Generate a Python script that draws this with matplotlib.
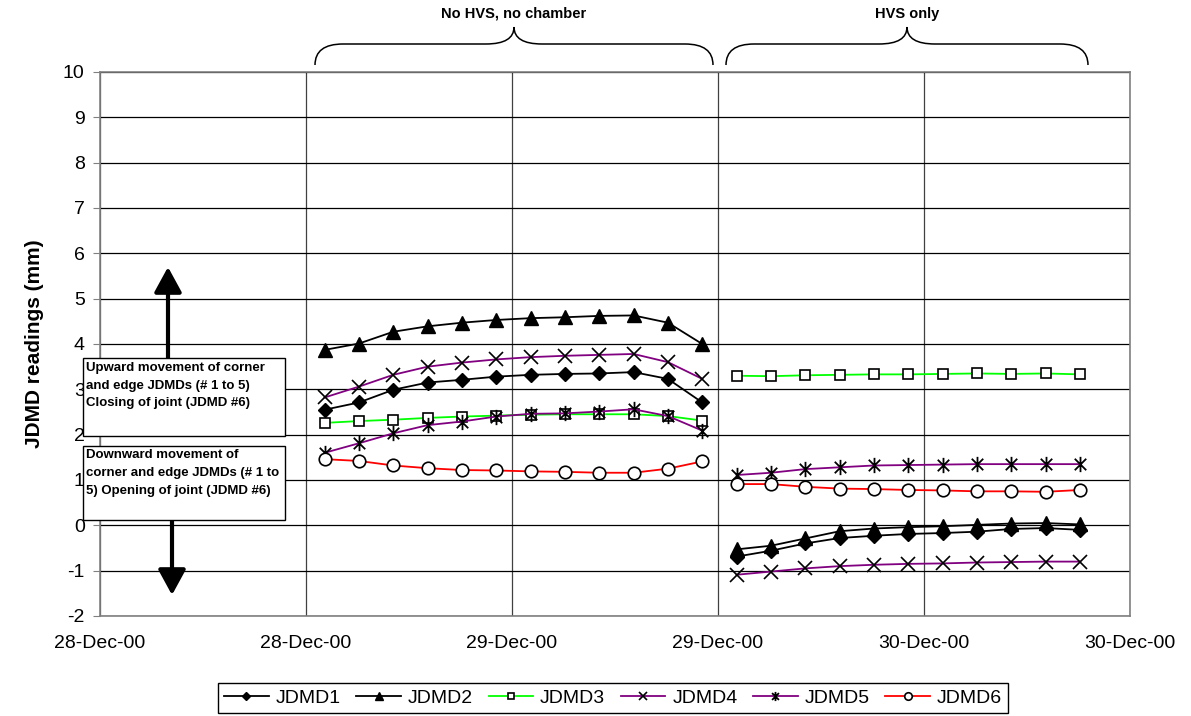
import matplotlib
matplotlib.use("Agg")
import matplotlib.pyplot as plt
import matplotlib.dates as mdates
from matplotlib.path import Path
from matplotlib.patches import PathPatch, Rectangle
import pandas as pd

plt.rcParams['font.family'] = ['Liberation Sans', 'DejaVu Sans']
plt.rcParams['axes.unicode_minus'] = False

# ---------------- data ----------------
times_g1 = ['2000-12-28 13:05', '2000-12-28 15:05', '2000-12-28 17:05', '2000-12-28 19:05',
            '2000-12-28 21:05', '2000-12-28 23:05', '2000-12-29 01:05', '2000-12-29 03:05',
            '2000-12-29 05:05', '2000-12-29 07:05', '2000-12-29 09:05', '2000-12-29 11:05']
times_g2 = ['2000-12-29 13:05', '2000-12-29 15:05', '2000-12-29 17:05', '2000-12-29 19:05',
            '2000-12-29 21:05', '2000-12-29 23:05', '2000-12-30 01:05', '2000-12-30 03:05',
            '2000-12-30 05:05', '2000-12-30 07:05', '2000-12-30 09:05']

series_names = ['JDMD1', 'JDMD2', 'JDMD3', 'JDMD4', 'JDMD5', 'JDMD6']

jdmd1_g1 = [2.55, 2.71, 2.99, 3.15, 3.21, 3.28, 3.32, 3.34, 3.35, 3.38, 3.23, 2.71]
jdmd1_g2 = [-0.69, -0.56, -0.40, -0.28, -0.23, -0.19, -0.17, -0.14, -0.08, -0.06, -0.10]
jdmd2_g1 = [3.87, 4.01, 4.27, 4.39, 4.47, 4.53, 4.57, 4.59, 4.62, 4.63, 4.47, 4.00]
jdmd2_g2 = [-0.53, -0.45, -0.29, -0.13, -0.07, -0.04, -0.02, 0.01, 0.04, 0.05, 0.02]
jdmd3_g1 = [2.26, 2.30, 2.33, 2.37, 2.40, 2.42, 2.44, 2.45, 2.45, 2.45, 2.41, 2.31]
jdmd3_g2 = [3.30, 3.29, 3.31, 3.32, 3.33, 3.33, 3.34, 3.35, 3.34, 3.35, 3.33]
jdmd4_g1 = [2.82, 3.06, 3.32, 3.50, 3.59, 3.66, 3.71, 3.74, 3.76, 3.78, 3.60, 3.23]
jdmd4_g2 = [-1.09, -1.02, -0.95, -0.90, -0.87, -0.85, -0.84, -0.82, -0.81, -0.80, -0.80]
jdmd5_g1 = [1.60, 1.81, 2.03, 2.21, 2.29, 2.40, 2.46, 2.47, 2.51, 2.56, 2.41, 2.09]
jdmd5_g2 = [1.11, 1.16, 1.24, 1.28, 1.32, 1.33, 1.34, 1.35, 1.35, 1.35, 1.35]
jdmd6_g1 = [1.46, 1.42, 1.32, 1.26, 1.22, 1.21, 1.19, 1.18, 1.16, 1.16, 1.25, 1.41]
jdmd6_g2 = [0.91, 0.91, 0.85, 0.81, 0.80, 0.78, 0.77, 0.75, 0.75, 0.74, 0.78]

y_ticks = [-2, -1, 0, 1, 2, 3, 4, 5, 6, 7, 8, 9, 10]
x_start = '2000-12-28 00:00'
x_end = '2000-12-30 12:00'

period_labels = ['No HVS, no chamber', 'HVS only']
box_up_lines = ['Upward movement of corner', 'and edge JDMDs (# 1 to 5)', 'Closing of joint (JDMD #6)']
box_down_lines = ['Downward movement of', 'corner and edge JDMDs (# 1 to', '5) Opening of joint (JDMD #6)']

# ---------------- styles ----------------
asterisk = Path([(0, -1), (0, 1), (-0.75, -0.75), (0.75, 0.75), (-0.75, 0.75), (0.75, -0.75)],
                [Path.MOVETO, Path.LINETO, Path.MOVETO, Path.LINETO, Path.MOVETO, Path.LINETO])

styles = [
    dict(color='black', marker='D', ms=7, mfc='black', mec='black'),
    dict(color='black', marker='^', ms=10, mfc='black', mec='black'),
    dict(color='#00FF00', marker='s', ms=6.5, mfc='white', mec='black', mew=1.2),
    dict(color='#800080', marker='x', ms=10, mfc='black', mec='black', mew=1.2),
    dict(color='#800080', marker=asterisk, ms=11, mfc='black', mec='black', mew=1.3),
    dict(color='#FF0000', marker='o', ms=9, mfc='white', mec='black', mew=1.2),
]

W, H = 1191, 716
fig = plt.figure(figsize=(W / 100, H / 100), dpi=100)
ax = fig.add_axes([100 / W, 1 - 616 / H, 1030 / W, 544 / H])

t1 = pd.to_datetime(times_g1)
t2 = pd.to_datetime(times_g2)
data = [(jdmd1_g1, jdmd1_g2), (jdmd2_g1, jdmd2_g2), (jdmd3_g1, jdmd3_g2),
        (jdmd4_g1, jdmd4_g2), (jdmd5_g1, jdmd5_g2), (jdmd6_g1, jdmd6_g2)]
handles = []
for name, (a, b), st in zip(series_names, data, styles):
    h, = ax.plot(t1, a, lw=1.3, label=name, zorder=3, **st)
    ax.plot(t2, b, lw=1.3, zorder=3, **st)
    handles.append(h)

ax.set_xlim(pd.Timestamp(x_start), pd.Timestamp(x_end))
ax.set_ylim(-2, 10)
ax.set_yticks(y_ticks)
ax.xaxis.set_major_locator(mdates.HourLocator(byhour=[0, 12]))
ax.xaxis.set_major_formatter(mdates.DateFormatter('%d-%b-%y'))
ax.grid(True, color='black', lw=0.9)
ax.xaxis.grid(True, color='#404040', lw=0.9)
for s in ax.spines.values():
    s.set_color('#808080')
    s.set_linewidth(1.2)
ax.tick_params(axis='y', labelsize=14, length=5, color='#808080', pad=6)
ax.tick_params(axis='x', labelsize=14, length=0, pad=14)
ax.set_ylabel('JDMD readings (mm)', fontsize=15, fontweight='bold', labelpad=14)

leg = fig.legend(handles=handles, loc='lower center', bbox_to_anchor=(613 / W, 3 / H),
                 ncol=6, fontsize=14, frameon=True, fancybox=False, framealpha=1,
                 edgecolor='black', handlelength=2.3, handletextpad=0.35,
                 columnspacing=0.8, borderpad=0.32, borderaxespad=0, markerscale=0.6)
leg.get_frame().set_linewidth(1.0)

# ---------------- annotations overlay (pixel coordinates) ----------------
ov = fig.add_axes([0, 0, 1, 1], zorder=5)
ov.set_xlim(0, W)
ov.set_ylim(H, 0)
ov.axis('off')
ov.patch.set_alpha(0)


def brace(x0, x1, yend, yh, ytip, r=28):
    xm = (x0 + x1) / 2
    verts = [(x0, yend), (x0, yh), (x0 + r, yh), (xm - r, yh), (xm, yh), (xm, ytip),
             (xm, yh), (xm + r, yh), (x1 - r, yh), (x1, yh), (x1, yend)]
    codes = [Path.MOVETO, Path.CURVE3, Path.CURVE3, Path.LINETO, Path.CURVE3, Path.CURVE3,
             Path.CURVE3, Path.CURVE3, Path.LINETO, Path.CURVE3, Path.CURVE3]
    ov.add_patch(PathPatch(Path(verts, codes), fc='none', ec='black', lw=1.1))
    return xm


xm1 = brace(315, 713, 65, 44, 27)
xm2 = brace(726, 1088, 65, 44, 27)
ov.text(xm1, 14, period_labels[0], ha='center', va='center', fontsize=10.5, fontweight='bold')
ov.text(xm2, 14, period_labels[1], ha='center', va='center', fontsize=10.5, fontweight='bold')

# arrows
ov.annotate('', xy=(168, 267), xytext=(168, 365),
            arrowprops=dict(arrowstyle='-|>,head_length=0.55,head_width=0.3', lw=3,
                            color='black', shrinkA=0, shrinkB=0, mutation_scale=28), zorder=4)
ov.annotate('', xy=(172, 595), xytext=(172, 515),
            arrowprops=dict(arrowstyle='-|>,head_length=0.55,head_width=0.3', lw=3,
                            color='black', shrinkA=0, shrinkB=0, mutation_scale=28), zorder=4)

# boxes
ov.add_patch(Rectangle((83, 358), 202, 78, fc='white', ec='black', lw=1.0, zorder=6))
ov.add_patch(Rectangle((83, 446), 202, 74, fc='white', ec='black', lw=1.0, zorder=6))
for i, line in enumerate(box_up_lines):
    ov.text(86, 368 + i * 17.5, line, ha='left', va='center', fontsize=9.5,
            fontweight='bold', zorder=7)
for i, line in enumerate(box_down_lines):
    ov.text(86, 455 + i * 17.8, line, ha='left', va='center', fontsize=9.5,
            fontweight='bold', zorder=7)

fig.savefig('out.png', dpi=100)
